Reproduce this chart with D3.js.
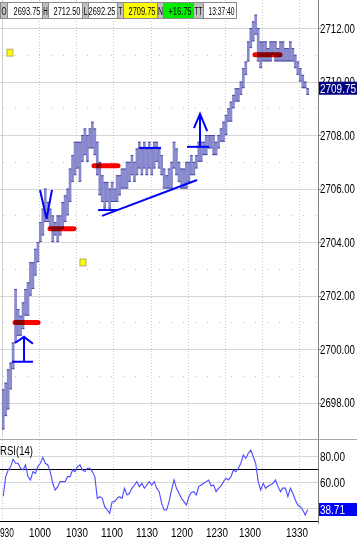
<!DOCTYPE html>
<html><head><meta charset="utf-8">
<script src="https://cdn.jsdelivr.net/npm/d3@7"></script>
<style>body{margin:0;background:#fff}svg{display:block}text{font-family:"Liberation Sans",Arial,sans-serif}</style>
</head><body><svg id="c" width="357" height="539"></svg>
<script>
// ---- data (2-minute bars from 09:30) ----
const barLow = [2697.0,2697.5,2697.75,2698.5,2699.25,2700.25,2700.5,2700.5,2700.75,2701.25,
2701.25,2702.0,2702.25,2702.75,2703.25,2704.0,2704.25,2704.75,2704.75,2704.5,
2704.0,2704.25,2704.0,2704.25,2704.5,2704.75,2705.0,2705.5,2706.25,2706.5,
2706.75,2706.25,2707.0,2707.25,2707.0,2707.5,2707.5,2707.25,2706.5,2705.75,
2705.5,2705.25,2705.5,2705.25,2705.5,2705.5,2705.5,2705.75,2706.0,2706.0,
2706.0,2706.25,2706.5,2706.25,2706.5,2706.75,2706.5,2706.75,2706.5,2706.75,
2706.5,2706.75,2707.0,2706.75,2706.5,2706.0,2706.0,2706.0,2706.0,2706.75,
2706.5,2706.25,2706.0,2706.0,2706.0,2706.25,2706.5,2706.5,2706.75,2707.0,
2707.0,2707.25,2707.25,2707.5,2707.5,2707.25,2707.25,2707.5,2707.75,2707.75,
2708.0,2708.5,2708.5,2709.0,2709.25,2709.25,2709.5,2709.75,2710.25,2710.75,
2711.25,2711.5,2711.75,2710.75,2710.5,2710.75,2710.75,2710.75,2710.75,2711.0,
2710.75,2710.75,2710.75,2710.75,2710.75,2710.75,2710.75,2710.75,2710.5,2710.25,
2710.0,2709.75,2709.75,2709.5];
const barHigh = [2698.5,2698.75,2699.25,2699.5,2700.25,2702.25,2701.5,2701.25,2701.75,2702.25,
2702.5,2703.25,2703.25,2703.75,2704.0,2704.75,2705.25,2706.0,2705.5,2705.25,
2705.0,2704.75,2705.0,2705.0,2705.5,2705.75,2706.0,2706.75,2707.25,2707.75,
2707.75,2707.75,2708.0,2708.25,2708.0,2708.25,2708.5,2708.25,2707.75,2707.0,
2706.5,2706.25,2706.25,2706.0,2706.25,2706.0,2706.5,2706.5,2706.75,2706.75,
2707.0,2707.0,2707.25,2707.0,2707.5,2707.75,2707.5,2707.75,2707.5,2707.75,
2707.5,2707.75,2707.75,2707.5,2707.25,2706.75,2706.5,2706.75,2707.0,2707.75,
2707.5,2707.0,2706.75,2706.75,2707.0,2707.0,2707.25,2707.0,2707.25,2707.75,
2707.75,2707.75,2708.0,2708.0,2708.0,2708.0,2707.75,2708.0,2708.25,2708.5,
2708.75,2709.0,2709.25,2709.5,2709.75,2709.75,2710.0,2710.5,2710.75,2711.5,
2712.0,2712.25,2712.5,2712.0,2711.5,2711.5,2711.5,2711.25,2711.5,2711.5,
2711.5,2711.25,2711.5,2711.5,2711.25,2711.25,2711.5,2711.25,2711.0,2710.75,
2710.5,2710.25,2710.0,2709.75];
const rsiValues = [49,64.3,69.5,72.1,77.8,74.7,74.7,70.8,69.5,73.4,
64.3,61.7,68.2,66.9,72.1,74.7,79.3,74.7,73.4,68.2,
59.1,53.9,56.5,60.4,60.4,60.4,64.3,64.3,69.5,68.2,
72.1,73.4,69.5,68.2,70.8,70.8,68.2,64.3,47.4,48.7,
47.4,40.9,38.3,35.7,44.8,44.8,47.4,48.7,47.4,55.2,
50.0,51.3,55.2,57.8,60.4,56.5,59.1,55.2,57.8,60.4,
57.8,60.4,55.2,52.6,43.5,38.3,38.3,44.8,53.9,61.7,
55.2,51.3,47.4,44.8,42.2,48.7,52.0,52.6,50.0,56.5,
57.8,59.1,60.4,61.7,57.0,57.8,52.6,55.2,57.0,60.4,
63.0,61.7,64.3,69.5,68.2,70.8,74.7,81.1,78.6,82.4,
85.0,79.8,74.7,60.4,53.9,59.1,55.2,57.0,57.8,59.1,
61.7,56.5,52.6,55.5,55.2,48.7,55.2,51.3,46.1,42.2,
40.9,38.3,34.4,38.71];
const priceTicks = [2698,2700,2702,2704,2706,2708,2710,2712];
const oddPriceRows = [2699,2701,2703,2705,2707,2709,2711];
const rsiGrid = [40,60,80];
const rsiTickLabels = [60,80];
const rsiBands = [30,70];
const gridMinutes = [0,30,60,90,120,150,180,210,240];
const timeLabels = ["930","1000","1030","1100","1130","1200","1230","1300","1330"];
const timeLabelMinutes = [4.0,30.7,60.6,88.9,117.2,145.4,173.7,200.4,238.4];
const headerKeys = ["O","H","L","T","N","TT"];
const headerValues = ["2693.75","2712.50","2692.25","2709.75","+16.75","13:37:40"];
const lastPrice = 2709.75, lastRsi = 38.71;
// annotations in (minute, price)
const redLevels = [[10.5,29.1,2701.0],[38.8,58.2,2704.5],[74.3,93.7,2706.85],[204.4,224.6,2711.0]];
const bluePaths = [
  [[8.1,2699.53],[25.0,2699.53]],
  [[17.8,2699.53],[17.8,2700.46]],
  [[10.5,2700.23],[17.8,2700.46],[25.0,2700.20]],
  [[30.7,2705.95],[36.0,2704.87],[40.4,2705.95]],
  [[77.6,2705.20],[93.7,2705.20]],
  [[80.8,2704.98],[157.6,2706.32]],
  [[110.7,2707.52],[128.5,2707.52]],
  [[149.5,2707.56],[167.3,2707.56]],
  [[160,2707.56],[160,2708.79]],
  [[155.1,2708.26],[160,2708.79],[165.8,2708.15]]
];
const yellowMarks = [[4.0,2711.08],[63.0,2703.24]];

// ---- layout ----
const svg = d3.select("#c");
const plotR = 318;
const x = d3.scaleLinear().domain([0,240]).range([2, 2+240*1.2376]);
const yP = d3.scaleLinear().domain([2698,2712]).range([402.7,28.0]);
const yR = d3.scaleLinear().domain([30,70]).range([520.7,469.3]);
const mainTop = 0, mainBot = 437, rsiTop = 440, rsiBot = 524;

// text squeezed horizontally to a target width (narrow-font look)
function ntext(parent, px, py, str, size, fill, w, anchor) {
  const gg = parent.append("g");
  const t = gg.append("text").attr("font-size", size).attr("fill", fill).text(str);
  const nat = t.node().getComputedTextLength();
  const k = w / nat;
  const ox = anchor === "middle" ? -w/2 : anchor === "end" ? -w : 0;
  gg.attr("transform", `translate(${px+ox},${py}) scale(${k},1)`);
  return gg;
}

// grids main
const g = svg.append("g");
g.selectAll(".hg").data(priceTicks).enter().append("line")
 .attr("x1",0).attr("x2",plotR).attr("y1",d=>Math.round(yP(d))+0.5).attr("y2",d=>Math.round(yP(d))+0.5)
 .attr("stroke","#d6d6d6");
g.selectAll(".og").data(oddPriceRows).enter().append("line")
 .attr("x1",3).attr("x2",plotR).attr("y1",d=>Math.round(yP(d))+0.5).attr("y2",d=>Math.round(yP(d))+0.5)
 .attr("stroke","#c4c4c4").attr("stroke-dasharray","1,11");
g.selectAll(".vg").data(gridMinutes).enter().append("line")
 .attr("x1",d=>Math.round(x(d))+0.5).attr("x2",d=>Math.round(x(d))+0.5).attr("y1",mainTop).attr("y2",mainBot)
 .attr("stroke",(d,i)=>i===0?"#d0d0d0":"#c8c8c8").attr("stroke-dasharray",(d,i)=>i===0?null:"1,2");
g.selectAll(".vg2").data(gridMinutes).enter().append("line")
 .attr("x1",d=>Math.round(x(d))+0.5).attr("x2",d=>Math.round(x(d))+0.5).attr("y1",rsiTop).attr("y2",rsiBot)
 .attr("stroke","#c8c8c8").attr("stroke-dasharray","1,2");

// bars
const bars = barLow.map((l,i)=>({i, lo:l, hi:barHigh[i]}));
const bw = 2.7;
g.selectAll(".bar").data(bars).enter().append("rect")
 .attr("x",d=>x(2*d.i+1)-bw/2).attr("width",bw)
 .attr("y",d=>yP(d.hi)).attr("height",d=>Math.max(2,yP(d.lo)-yP(d.hi)))
 .attr("fill","#7474c4").attr("fill-opacity",0.85);
g.selectAll(".tk").data(bars).enter().append("rect")
 .attr("x",d=>x(2*d.i+1)-bw/2).attr("width",bw)
 .attr("y",d=>yP(d.hi)).attr("height",1)
 .attr("fill","#20207a").attr("fill-opacity",0.6);
g.selectAll(".tk2").data(bars).enter().append("rect")
 .attr("x",d=>x(2*d.i+1)-bw/2).attr("width",bw)
 .attr("y",d=>yP(d.lo)-1).attr("height",1)
 .attr("fill","#20207a").attr("fill-opacity",0.6);

// red levels (multiply so overlap turns maroon)
g.selectAll(".red").data(redLevels).enter().append("line")
 .attr("x1",d=>x(d[0])).attr("x2",d=>x(d[1])).attr("y1",d=>yP(d[2])).attr("y2",d=>yP(d[2]))
 .attr("stroke","#ff0000").attr("stroke-width",5).attr("stroke-linecap","round")
 .style("mix-blend-mode","multiply");

// blue annotations
const ln = d3.line().x(d=>x(d[0])).y(d=>yP(d[1]));
g.selectAll(".blue").data(bluePaths).enter().append("path")
 .attr("d",ln).attr("fill","none").attr("stroke","#0000ff").attr("stroke-width",2);

// yellow marks
g.selectAll(".ym").data(yellowMarks).enter().append("rect")
 .attr("x",d=>x(d[0])).attr("y",d=>yP(d[1])-3.5).attr("width",6).attr("height",7)
 .attr("fill","#ffff00").attr("stroke","#9a9a60").attr("stroke-width",0.8);

// header
let hx = 0;
const kW = [7,6,6,6,6,10], vW = [35,34,29,34,30,33];
const kT = [5,4.5,4,4,5,8], vT = [27,27,27,27,23,26];
const vFill = ["#fff","#fff","#fff","#ffff00","#00ee00","#fff"];
const hg = svg.append("g");
headerKeys.forEach((k,i)=>{
  hg.append("rect").attr("x",hx+0.5).attr("y",2.5).attr("width",kW[i]).attr("height",16)
    .attr("fill","#c0c0c0").attr("stroke","#8a8a8a");
  ntext(hg, hx+kW[i]/2+0.5, 14.5, k, 11, "#000", kT[i], "middle");
  hx += kW[i];
  hg.append("rect").attr("x",hx+0.5).attr("y",2.5).attr("width",vW[i]).attr("height",16)
    .attr("fill",vFill[i]).attr("stroke","#8a8a8a");
  ntext(hg, hx+vW[i]-1.5, 14.5, headerValues[i], 11, "#000", vT[i], "end");
  hx += vW[i];
});

// axes lines
svg.append("line").attr("x1",plotR+0.5).attr("x2",plotR+0.5).attr("y1",0).attr("y2",rsiBot).attr("stroke","#808080");
svg.append("line").attr("x1",0).attr("x2",357).attr("y1",rsiTop-0.5).attr("y2",rsiTop-0.5).attr("stroke","#a8a8a8");

// price labels
priceTicks.forEach(p => ntext(svg, plotR+2, yP(p)+4.5, p.toFixed(2), 12.5, "#000", 35, "start"));
svg.selectAll(".pt").data(priceTicks).enter().append("line")
 .attr("x1",plotR).attr("x2",plotR+3).attr("y1",d=>Math.round(yP(d))+0.5).attr("y2",d=>Math.round(yP(d))+0.5).attr("stroke","#808080");
svg.append("rect").attr("x",plotR+1).attr("y",yP(lastPrice)-6.5).attr("width",357-plotR-1).attr("height",13).attr("fill","#000080");
ntext(svg, plotR+2, yP(lastPrice)+4.5, lastPrice.toFixed(2), 12.5, "#fff", 36, "start");

// RSI panel
svg.selectAll(".rg").data(rsiGrid).enter().append("line")
 .attr("x1",0).attr("x2",plotR).attr("y1",d=>Math.round(yR(d))+0.5).attr("y2",d=>Math.round(yR(d))+0.5).attr("stroke","#d6d6d6");
svg.selectAll(".rb").data(rsiBands).enter().append("line")
 .attr("x1",0).attr("x2",plotR).attr("y1",d=>Math.round(yR(d))+0.5).attr("y2",d=>Math.round(yR(d))+0.5).attr("stroke","#000");
const rl = d3.line().x((d,i)=>x(2*i+1)).y(d=>yR(d));
svg.append("path").datum(rsiValues).attr("d",rl).attr("fill","none").attr("stroke","#4a4aff").attr("stroke-width",1.1);
ntext(svg, 0, 455, "RSI(14)", 13, "#000", 33, "start");
rsiTickLabels.forEach(v => ntext(svg, plotR+2, yR(v)+4.5, v.toFixed(2), 12.5, "#000", 25, "start"));
svg.append("rect").attr("x",plotR+1).attr("y",yR(lastRsi)-6.5).attr("width",357-plotR-1).attr("height",13).attr("fill","#0000ff");
ntext(svg, plotR+2, yR(lastRsi)+4.5, lastRsi.toFixed(2), 12.5, "#fff", 25, "start");

// time labels
timeLabels.forEach((t,i) => ntext(svg, x(timeLabelMinutes[i]), 537, t, 12.5, "#000", t.length===3?14:22, "middle"));
</script></body></html>
